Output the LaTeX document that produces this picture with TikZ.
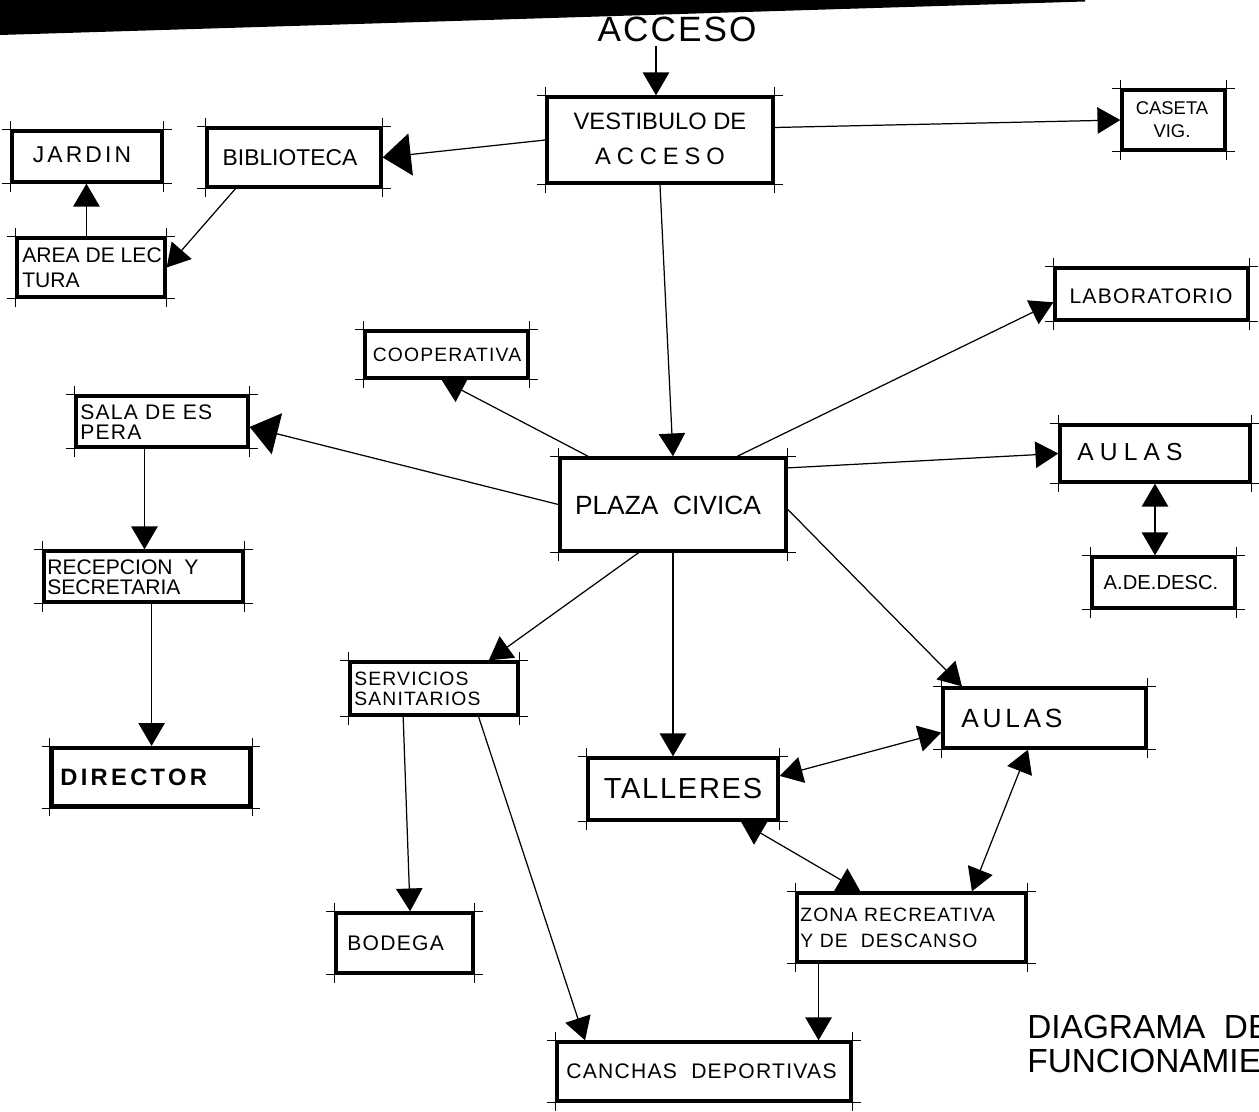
\documentclass[tikz,border=0pt]{standalone}
\usepackage{fontspec}
\setmainfont{Liberation Sans}
\newfontfamily\lsa{Liberation Sans}[LetterSpace=6]
\newfontfamily\lsb{Liberation Sans}[LetterSpace=14]
\newfontfamily\lsc{Liberation Sans}[LetterSpace=25]
\usetikzlibrary{arrows.meta,calc,fit}
\tikzset{
  room/.style={draw, line width=1.9pt, inner sep=0pt},
  tick/.style={line width=0.45pt},
  lbl/.style={inner sep=0pt, align=#1},
  lbl/.default=center,
  arr/.style={line width=0.7pt, -{Triangle[length=13pt,width=15pt]}},
  bigarr/.style={line width=0.7pt, -{Triangle[length=16pt,width=24pt]}},
  dbl/.style={line width=0.7pt, {Triangle[length=13pt,width=15pt]}-{Triangle[length=13pt,width=15pt]}},
}
\newcommand\fs[2]{\fontsize{#1pt}{#2pt}\selectfont}
\begin{document}
\begin{tikzpicture}[x=0.02cm,y=-0.02cm]
\useasboundingbox (0,0) rectangle (1259,1112);
\clip (0,0) rectangle (1259,1112);
\fill (0,0) -- (1085,0) -- (1085,1.5) -- (0,35) -- cycle;

% boxes
\node[room, fit={(547,97) (773,183)}] (vest) {};
\node[room, fit={(1122,90) (1225,150)}] (cas) {};
\node[room, fit={(12,131) (162,182)}] (jard) {};
\node[room, fit={(207,128) (381,187)}] (bib) {};
\node[room, fit={(17,238) (165,297)}] (area) {};
\node[room, fit={(1055,268) (1248,320)}] (lab) {};
\node[room, fit={(365,331) (528,378)}] (coop) {};
\node[room, fit={(76,396) (248,447)}] (sala) {};
\node[room, fit={(560,458) (786,551)}] (plaza) {};
\node[room, fit={(1060,425) (1250,482)}] (aulasa) {};
\node[room, fit={(1092,557) (1235,608)}] (desc) {};
\node[room, fit={(44,551) (243,602)}] (recep) {};
\node[room, line width=2.4pt, fit={(52,748) (250,806)}] (dir) {};
\node[room, fit={(350,662) (518,715)}] (serv) {};
\node[room, fit={(943,688) (1146,748)}] (aulasb) {};
\node[room, fit={(588,758) (778,820)}] (tall) {};
\node[room, fit={(797,893) (1026,962)}] (zona) {};
\node[room, fit={(336,913) (473,973)}] (bod) {};
\node[room, fit={(557,1042) (851,1101)}] (canch) {};

% corner ticks
\foreach \n in {vest,cas,jard,bib,area,lab,coop,sala,plaza,aulasa,desc,recep,dir,serv,aulasb,tall,zona,bod,canch} {
  \draw[tick] ([xshift=-4.5pt]\n.north west) -- ([xshift=4.5pt]\n.north east);
  \draw[tick] ([xshift=-4.5pt]\n.south west) -- ([xshift=4.5pt]\n.south east);
  \draw[tick] ([yshift=4.5pt]\n.north west) -- ([yshift=-4.5pt]\n.south west);
  \draw[tick] ([yshift=4.5pt]\n.north east) -- ([yshift=-4.5pt]\n.south east);
}

% labels
\node[lbl, font={\fs{20}{22}\lsa}] (acc-t) at (677,29) {ACCESO};
\node[lbl, font={\fs{13.5}{20}}] (vest-t) at (660,139) {VESTIBULO DE\\{\lsc ACCESO}};
\node[lbl, font={\fs{10.5}{13}}] (cas-t) at (1172,120) {CASETA\\VIG.};
\node[lbl, font={\fs{13}{15}\lsb}] (jard-t) at (82,155) {JARDIN};
\node[lbl, font={\fs{13}{15}}] (bib-t) at (290,158) {BIBLIOTECA};
\node[lbl=left, anchor=west, font={\fs{12}{14}}] (area-t) at (22,268) {AREA DE LEC\\TURA};
\node[lbl, font={\fs{12}{14}\lsa}] (lab-t) at (1151,296) {LABORATORIO};
\node[lbl, font={\fs{11}{13}\lsa}] (coop-t) at (447,355) {COOPERATIVA};
\node[lbl=left, anchor=west, font={\fs{12}{11.5}\lsa}] (sala-t) at (80,422) {SALA DE ES\\PERA};
\node[lbl, font={\fs{15}{17}}] (plaza-t) at (668,505) {PLAZA\ \ CIVICA};
\node[lbl, anchor=west, font={\fs{14}{16}\lsc}] (aulasa-t) at (1077,452) {AULAS};
\node[lbl, font={\fs{11.5}{13}}] (desc-t) at (1161,583) {A.DE.DESC.};
\node[lbl=left, anchor=west, font={\fs{12}{11.5}}] (recep-t) at (47,577) {RECEPCION\ \ Y\\SECRETARIA};
\node[lbl, anchor=west, font={\fs{13.5}{15}\lsb\bfseries}] (dir-t) at (60,777) {DIRECTOR};
\node[lbl=left, anchor=west, font={\fs{11}{11}\lsa}] (serv-t) at (354,689) {SERVICIOS\\SANITARIOS};
\node[lbl, anchor=west, font={\fs{15}{17}\lsb}] (aulasb-t) at (961,718) {AULAS};
\node[lbl, font={\fs{16.5}{18}\lsa}] (tall-t) at (683,789) {TALLERES};
\node[lbl=left, anchor=west, font={\fs{11}{15}\lsa}] (zona-t) at (800,928) {ZONA RECREATIVA\\Y DE\ \ DESCANSO};
\node[lbl, anchor=west, font={\fs{12}{14}\lsa}] (bod-t) at (347,943) {BODEGA};
\node[lbl, anchor=west, font={\fs{12}{14}\lsa}] (canch-t) at (566,1071) {CANCHAS\ \ DEPORTIVAS};
\node[lbl=left, anchor=north west, font={\fs{19}{19.5}}] (title) at (1027,1015) {DIAGRAMA\ \ DE\\FUNCIONAMIENTO};

% helper coordinates
\coordinate (accb) at (656,46);
\coordinate (areaT) at ($(area.north west)!0.47!(area.north east)$);
\coordinate (salaB) at ($(sala.south west)!0.4!(sala.south east)$);
\coordinate (recepB) at ($(recep.south west)!0.54!(recep.south east)$);
\coordinate (zonaB) at ($(zona.south west)!0.1!(zona.south east)$);

% connectors
\draw[arr] (accb) -- (accb |- vest.north);
\draw[bigarr] (vest.west) -- (bib.east);
\draw[arr] ($(vest.north east)!0.36!(vest.south east)$) -- (cas.west);
\draw[arr] (vest.south) -- (plaza.north);
\draw[arr] ($(bib.south west)!0.17!(bib.south east)$) -- (area.east);
\draw[arr] (areaT) -- (areaT |- jard.south);
\draw[arr] ($(plaza.north west)!0.13!(plaza.north east)$) -- ($(coop.south west)!0.47!(coop.south east)$);
\draw[arr] ($(plaza.north west)!0.78!(plaza.north east)$) -- ($(lab.north west)!0.65!(lab.south west)$);
\draw[bigarr] (plaza.west) -- ($(sala.north east)!0.6!(sala.south east)$);
\draw[arr] ($(plaza.north east)!0.12!(plaza.south east)$) -- (aulasa.west);
\draw[dbl] (aulasa.south) -- (aulasa.south |- desc.north);
\draw[arr] (salaB) -- (salaB |- recep.north);
\draw[arr] (recepB) -- (recepB |- dir.north);
\draw[arr] ($(plaza.south west)!0.35!(plaza.south east)$) -- ($(serv.north west)!0.82!(serv.north east)$);
\draw[arr] (plaza.south) -- (plaza.south |- tall.north);
\draw[arr] ($(plaza.north east)!0.55!(plaza.south east)$) -- ($(aulasb.north west)!0.1!(aulasb.north east)$);
\draw[dbl] ($(tall.north east)!0.3!(tall.south east)$) -- ($(aulasb.north west)!0.73!(aulasb.south west)$);
\draw[arr] ($(serv.south west)!0.32!(serv.south east)$) -- ($(bod.north west)!0.54!(bod.north east)$);
\draw[arr] ($(serv.south west)!0.76!(serv.south east)$) -- ($(canch.north west)!0.1!(canch.north east)$);
\draw[dbl] ($(tall.south west)!0.8!(tall.south east)$) -- ($(zona.north west)!0.28!(zona.north east)$);
\draw[dbl] ($(aulasb.south west)!0.42!(aulasb.south east)$) -- ($(zona.north west)!0.76!(zona.north east)$);
\draw[arr] (zonaB) -- (zonaB |- canch.north);
\end{tikzpicture}
\end{document}
